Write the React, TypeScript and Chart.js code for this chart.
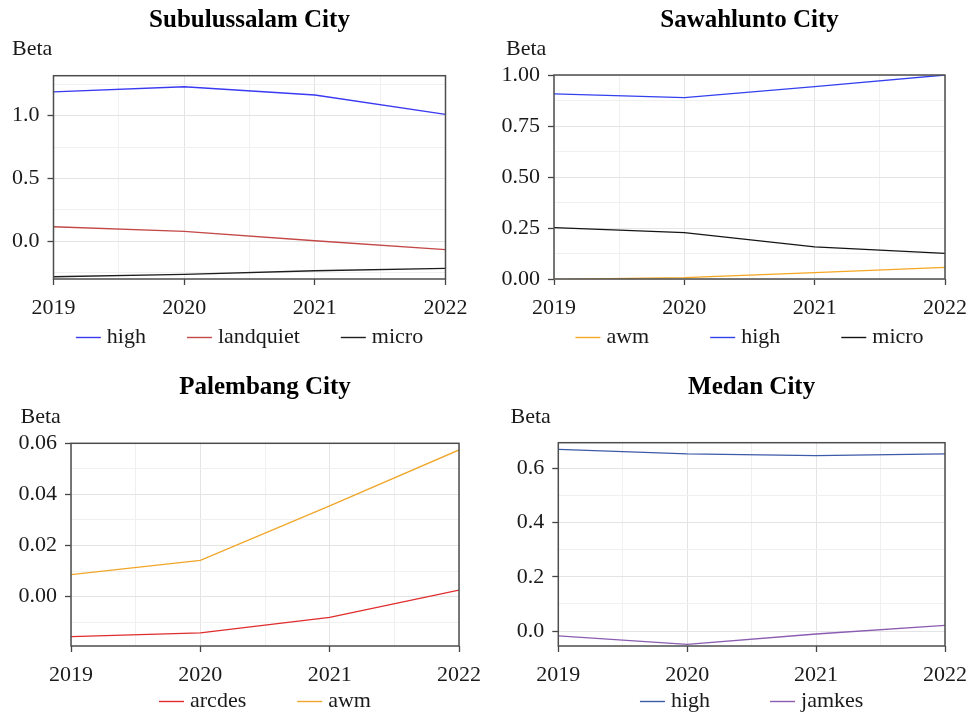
import React, { useEffect, useRef } from "react";
import { Chart, registerables } from "chart.js";

Chart.register(...registerables);

// ---- data -------------------------------------------------------------
const years = [2019, 2020, 2021, 2022];

const subulussalamHigh = [1.19, 1.231, 1.165, 1.01];
const subulussalamLandquiet = [0.114, 0.077, 0.002, -0.069];
const subulussalamMicro = [-0.285, -0.266, -0.237, -0.218];

const sawahluntoAwm = [-0.002, 0.007, 0.031, 0.057];
const sawahluntoHigh = [0.907, 0.889, 0.943, 1.0];
const sawahluntoMicro = [0.252, 0.227, 0.157, 0.126];

const palembangArcdes = [-0.0156, -0.0142, -0.0081, 0.0026];
const palembangAwm = [0.0086, 0.0142, 0.0355, 0.0574];

const medanHigh = [0.67, 0.653, 0.647, 0.653];
const medanJamkes = [-0.018, -0.049, -0.011, 0.021];

const yTitle = "Beta";
const FONT = '"Liberation Serif", "Times New Roman", serif';

type Series = { label: string; values: number[]; color: string };

type PanelSpec = {
  title: string;
  series: Series[];
  yMin: number;
  yMax: number;
  yMinor: number;
  yMajor: number;
  decimals: number;
  left: number;
  top: number;
  width: number;
  height: number;
  area: { left: number; right: number; top: number; bottom: number };
  titleY: number;
  betaX: number;
  betaY: number;
  legendY: number;
  legendGap: number;
};

const panels: PanelSpec[] = [
  {
    title: "Subulussalam City",
    series: [
      { label: "high", values: subulussalamHigh, color: "#3a3af2" },
      { label: "landquiet", values: subulussalamLandquiet, color: "#c44848" },
      { label: "micro", values: subulussalamMicro, color: "#1e1e1e" },
    ],
    yMin: -0.303,
    yMax: 1.319,
    yMinor: 0.25,
    yMajor: 0.5,
    decimals: 1,
    left: 0,
    top: 0,
    width: 485,
    height: 358,
    area: { left: 53.5, right: 445.5, top: 75.7, bottom: 279 },
    titleY: 21,
    betaX: 12,
    betaY: 49,
    legendY: 337.5,
    legendGap: 41,
  },
  {
    title: "Sawahlunto City",
    series: [
      { label: "awm", values: sawahluntoAwm, color: "#f5a623" },
      { label: "high", values: sawahluntoHigh, color: "#3340ee" },
      { label: "micro", values: sawahluntoMicro, color: "#141414" },
    ],
    yMin: 0,
    yMax: 1,
    yMinor: 0.125,
    yMajor: 0.25,
    decimals: 2,
    left: 485,
    top: 0,
    width: 486,
    height: 358,
    area: { left: 69, right: 460.7, top: 75, bottom: 279 },
    titleY: 21,
    betaX: 21,
    betaY: 49.5,
    legendY: 337.5,
    legendGap: 61,
  },
  {
    title: "Palembang City",
    series: [
      { label: "arcdes", values: palembangArcdes, color: "#e02c2c" },
      { label: "awm", values: palembangAwm, color: "#f0a62a" },
    ],
    yMin: -0.0193,
    yMax: 0.06,
    yMinor: 0.01,
    yMajor: 0.02,
    decimals: 2,
    left: 0,
    top: 358,
    width: 485,
    height: 359,
    area: { left: 71, right: 459.3, top: 85.3, bottom: 288 },
    titleY: 30,
    betaX: 20.5,
    betaY: 59,
    legendY: 343.5,
    legendGap: 51,
  },
  {
    title: "Medan City",
    series: [
      { label: "high", values: medanHigh, color: "#3d5aa8" },
      { label: "jamkes", values: medanJamkes, color: "#8a5cb2" },
    ],
    yMin: -0.0553,
    yMax: 0.6944,
    yMinor: 0.1,
    yMajor: 0.2,
    decimals: 1,
    left: 485,
    top: 358,
    width: 486,
    height: 359,
    area: { left: 73.3, right: 460.7, top: 84.7, bottom: 288 },
    titleY: 30,
    betaX: 25.5,
    betaY: 59,
    legendY: 343.5,
    legendGap: 60,
  },
];

const isMultiple = (v: number, step: number) =>
  Math.abs(v / step - Math.round(v / step)) < 1e-6;

// Frame, panel title, axis caption and a ggplot-style legend row.
const panelDecor = {
  id: "panelDecor",
  afterDraw(chart: any, _args: any, opts: any) {
    const { ctx, chartArea } = chart;
    const spec: PanelSpec = opts.spec;
    ctx.save();

    ctx.strokeStyle = "#4d4d4d";
    ctx.lineWidth = 1.5;
    ctx.strokeRect(chartArea.left, chartArea.top, chartArea.right - chartArea.left, chartArea.bottom - chartArea.top);

    const cx = (chartArea.left + chartArea.right) / 2;
    ctx.fillStyle = "#000";
    ctx.textBaseline = "middle";
    ctx.textAlign = "center";
    ctx.font = `bold 25px ${FONT}`;
    ctx.fillText(spec.title, cx, spec.titleY);

    ctx.textAlign = "left";
    ctx.font = `22px ${FONT}`;
    ctx.fillStyle = "#1a1a1a";
    ctx.fillText(yTitle, spec.betaX, spec.betaY);

    const keyW = 25;
    const keyGap = 6;
    const items = chart.data.datasets.map((ds: any) => ({
      label: ds.label as string,
      color: ds.borderColor as string,
      w: keyW + keyGap + ctx.measureText(ds.label).width,
    }));
    const total = items.reduce((s: number, it: any) => s + it.w, 0) + spec.legendGap * (items.length - 1);
    let x = cx - total / 2;
    for (const it of items) {
      ctx.strokeStyle = it.color;
      ctx.lineWidth = 1.4;
      ctx.beginPath();
      ctx.moveTo(x, spec.legendY);
      ctx.lineTo(x + keyW, spec.legendY);
      ctx.stroke();
      ctx.fillStyle = "#1a1a1a";
      ctx.fillText(it.label, x + keyW + keyGap, spec.legendY);
      x += it.w + spec.legendGap;
    }
    ctx.restore();
  },
};

function Panel({ spec }: { spec: PanelSpec }) {
  const ref = useRef<HTMLCanvasElement | null>(null);

  useEffect(() => {
    if (!ref.current) return;
    const a = spec.area;
    const xAxisH = 50;
    const chart = new Chart(ref.current, {
      type: "line",
      data: {
        datasets: spec.series.map((s) => ({
          label: s.label,
          data: years.map((yr, i) => ({ x: yr, y: s.values[i] })),
          borderColor: s.color,
          backgroundColor: s.color,
          borderWidth: 1.3,
          pointRadius: 0,
          tension: 0,
          fill: false,
        })),
      },
      options: {
        animation: false,
        responsive: false,
        events: [],
        layout: {
          padding: {
            left: 0,
            top: a.top,
            right: spec.width - a.right,
            bottom: spec.height - a.bottom - xAxisH,
          },
        },
        plugins: {
          legend: { display: false },
          title: { display: false },
          tooltip: { enabled: false },
          panelDecor: { spec },
        } as any,
        scales: {
          x: {
            type: "linear",
            min: 2019,
            max: 2022,
            afterFit: (scale: any) => {
              scale.height = xAxisH;
            },
            border: { display: false },
            grid: {
              color: (c: any) => (c.tick && isMultiple(c.tick.value, 1) ? "#e4e4e4" : "#f0f0f0"),
              lineWidth: 1,
              tickLength: 6,
              tickWidth: 1.3,
              tickColor: (c: any) => (c.tick && isMultiple(c.tick.value, 1) ? "#444" : "rgba(0,0,0,0)"),
            },
            ticks: {
              stepSize: 0.5,
              autoSkip: false,
              maxRotation: 0,
              padding: 4,
              color: "#1a1a1a",
              font: { family: FONT, size: 22, lineHeight: 1.75 },
              callback: (v: any) => (isMultiple(Number(v), 1) ? String(Math.round(Number(v))) : ""),
            },
          },
          y: {
            type: "linear",
            min: spec.yMin,
            max: spec.yMax,
            afterFit: (scale: any) => {
              scale.width = a.left;
            },
            border: { display: false },
            grid: {
              color: (c: any) => (c.tick && isMultiple(c.tick.value, spec.yMajor) ? "#e4e4e4" : "#f0f0f0"),
              lineWidth: 1,
              tickLength: 6,
              tickWidth: 1.3,
              tickColor: (c: any) =>
                c.tick && isMultiple(c.tick.value, spec.yMajor) ? "#444" : "rgba(0,0,0,0)",
            },
            ticks: {
              stepSize: spec.yMinor,
              includeBounds: false,
              autoSkip: false,
              padding: 8,
              color: "#1a1a1a",
              font: { family: FONT, size: 22 },
              callback: (v: any) =>
                isMultiple(Number(v), spec.yMajor) ? Number(v).toFixed(spec.decimals) : "",
            },
          },
        },
      },
      plugins: [panelDecor as any],
    });
    return () => chart.destroy();
  }, [spec]);

  return (
    <canvas
      ref={ref}
      width={spec.width}
      height={spec.height}
      style={{
        position: "absolute",
        left: spec.left,
        top: spec.top,
        width: spec.width,
        height: spec.height,
      }}
    />
  );
}

export default function App() {
  return (
    <div
      style={{
        position: "fixed",
        left: 0,
        top: 0,
        width: 971,
        height: 717,
        background: "#ffffff",
        overflow: "hidden",
      }}
    >
      {panels.map((p) => (
        <Panel key={p.title} spec={p} />
      ))}
    </div>
  );
}
